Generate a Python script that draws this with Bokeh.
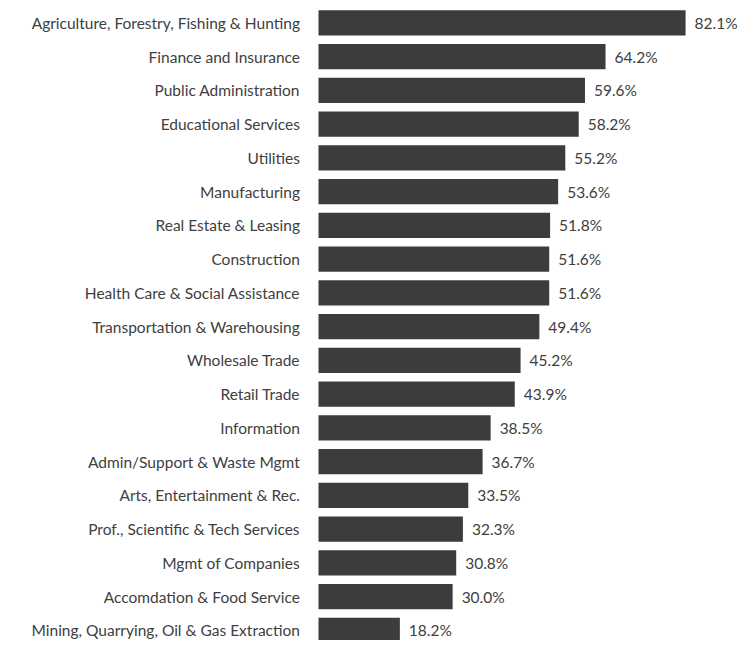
from bokeh.plotting import figure
from bokeh.models import ColumnDataSource, Range1d
from bokeh.core.properties import value
from bokeh.embed import file_html
from bokeh.resources import INLINE

industries = [
    "Agriculture, Forestry, Fishing & Hunting",
    "Finance and Insurance",
    "Public Administration",
    "Educational Services",
    "Utilities",
    "Manufacturing",
    "Real Estate & Leasing",
    "Construction",
    "Health Care & Social Assistance",
    "Transportation & Warehousing",
    "Wholesale Trade",
    "Retail Trade",
    "Information",
    "Admin/Support & Waste Mgmt",
    "Arts, Entertainment & Rec.",
    "Prof., Scientific & Tech Services",
    "Mgmt of Companies",
    "Accomdation & Food Service",
    "Mining, Quarrying, Oil & Gas Extraction",
]
shares = [82.1, 64.2, 59.6, 58.2, 55.2, 53.6, 51.8, 51.6, 51.6, 49.4,
          45.2, 43.9, 38.5, 36.7, 33.5, 32.3, 30.8, 30.0, 18.2]

pos = list(range(len(industries)))
labels = [f"{v:.1f}%" for v in shares]
src = ColumnDataSource(dict(y=pos, v=shares, name=industries, lab=labels,
                            zero=[0] * len(pos)))

W, H = 738, 640
px_per_unit = 4.471
x0_px = 318
pitch = 33.75
top_px = 22.4

p = figure(width=W, height=H, output_backend="svg", toolbar_location=None,
           x_range=Range1d(-x0_px / px_per_unit, (W - x0_px) / px_per_unit),
           y_range=Range1d(-top_px / pitch + H / pitch, -top_px / pitch),
           min_border=0, min_border_left=0, min_border_right=0,
           min_border_top=0, min_border_bottom=0)
p.axis.visible = False
p.grid.visible = False
p.outline_line_color = None
p.background_fill_color = "white"
p.border_fill_color = "white"

font = value("Lato")
p.hbar(y="y", left=0, right="v", height=0.75, source=src,
       fill_color="#3c3c3c", line_color=None)
p.text(x="zero", y="y", text="name", source=src, x_offset=-18.5,
       text_align="right", text_baseline="middle", text_font=font,
       text_font_size="15.5px", text_color="#404040")
p.text(x="v", y="y", text="lab", source=src, x_offset=9,
       text_align="left", text_baseline="middle", text_font=font,
       text_font_size="15.5px", text_color="#404040")

open("out.html", "w").write(file_html(p, INLINE))
